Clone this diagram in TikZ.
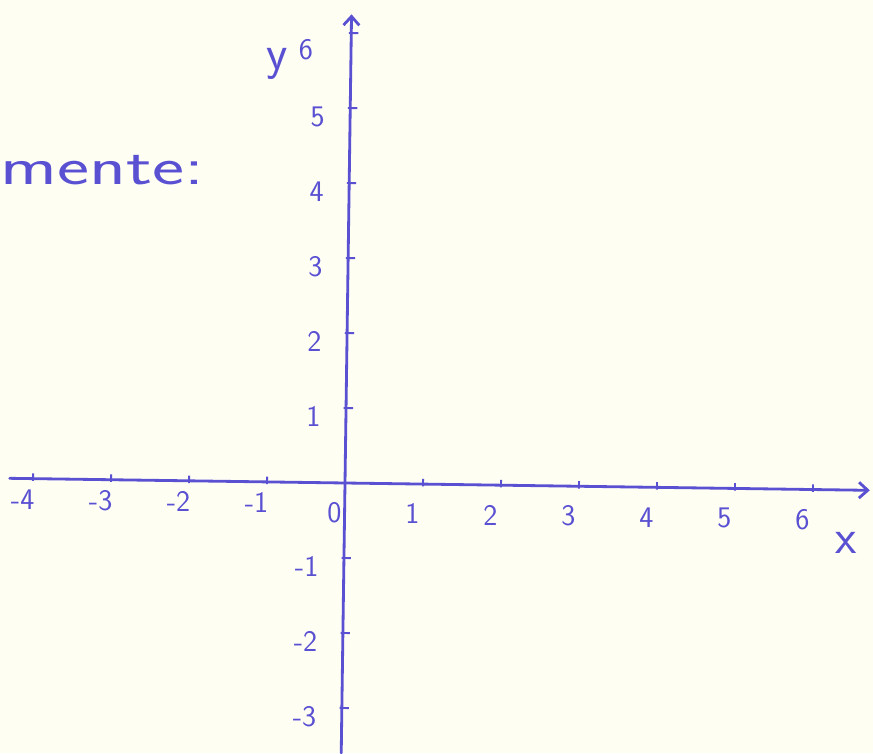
\documentclass[tikz,border=0pt]{standalone}
\usepackage{fontspec}
\usepackage{tikz}
\usetikzlibrary{arrows.meta}
\definecolor{penblue}{HTML}{5A50D2}
\definecolor{papercream}{HTML}{FEFEF3}

\begin{document}
\begin{tikzpicture}[
    axis/.style={line width=1.6pt, penblue, line cap=round},
    pentip/.style={-{Straight Barb[length=5pt, width=9pt]}},
    tick/.style={line width=1.1pt, penblue},
    ticklabel/.style={font=\sffamily\fontsize{17}{17}\selectfont\color{penblue}, inner sep=1pt},
    axislabel/.style={font=\sffamily\fontsize{28}{28}\selectfont\color{penblue}},
    note/.style={font=\sffamily\fontsize{30}{30}\selectfont\color{penblue}, anchor=base west, inner sep=0pt, xscale=1.45, transform shape}
  ]
  % paper
  \fill[papercream] (0,0) rectangle (17.46,15.06);
  \useasboundingbox (0,0) rectangle (17.46,15.06);

  % text cut at the left edge
  \node[note] (note) at (0,11.36) {mente:};

  \begin{scope}[shift={(6.90,5.40)}, rotate=-0.8, x=1.56cm, y=1.5cm]
    % axes
    \coordinate (origin) at (0,0);
    \coordinate (xstart) at (-4.3,0);
    \coordinate (xend) at (6.73,0);
    \coordinate (ystart) at (0,-3.6);
    \coordinate (yend) at (0,6.25);
    \draw[axis, pentip] (xstart) -- (xend);
    \draw[axis, pentip] (ystart) -- (yend);

    % ticks
    \foreach \i in {-4,-3,-2,-1,1,2,...,6}
      \draw[tick] (\i,-0.03) -- (\i,0.07);
    \foreach \j in {-3,-2,-1,1,2,...,6}
      \draw[tick] (-0.03,\j) -- (0.09,\j);

    % tick labels
    \foreach \i in {-4,-3,-2,-1}
      \node[ticklabel] (xlabel\i) at (\i-0.13,-0.28) {\i};
    \foreach \i in {0,...,6}
      \node[ticklabel] (xlabel\i) at (\i-0.13,-0.4) {\i};
    \foreach \j in {-3,-2,-1,1,2,...,5}
      \node[ticklabel, anchor=east] (ylabel\j) at (-0.3,\j-0.12) {\j};
    \node[ticklabel] (ylabel6) at (-0.58,5.77) {6};

    % axis names
    \node[axislabel] (xname) at (6.44,-0.71) {x};
    \node[axislabel] (yname) at (-0.94,5.57) {y};
  \end{scope}
\end{tikzpicture}
\end{document}
